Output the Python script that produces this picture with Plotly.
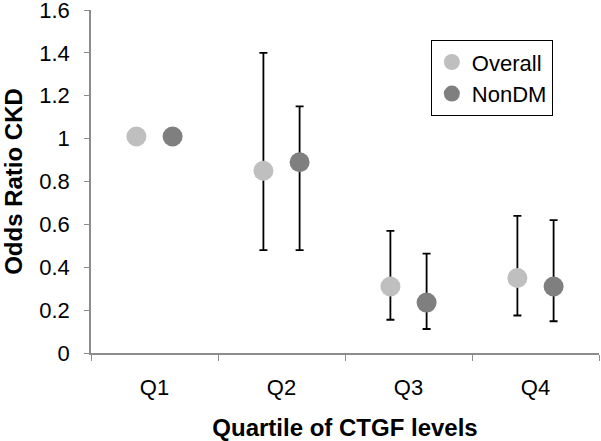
import plotly.graph_objects as go

categories = ["Q1", "Q2", "Q3", "Q4"]
overall_or = [1.01, 0.85, 0.31, 0.35]
overall_lo = [None, 0.48, 0.155, 0.175]
overall_hi = [None, 1.40, 0.57, 0.64]
nondm_or = [1.01, 0.89, 0.235, 0.31]
nondm_lo = [None, 0.48, 0.112, 0.148]
nondm_hi = [None, 1.15, 0.464, 0.62]
y_ticks = [0, 0.2, 0.4, 0.6, 0.8, 1, 1.2, 1.4, 1.6]


def err(vals, lo, hi):
    plus = [None if h is None else h - v for v, h in zip(vals, hi)]
    minus = [None if l is None else v - l for v, l in zip(vals, lo)]
    return plus, minus


fig = go.Figure()
for name, vals, lo, hi, color in [
    ("Overall", overall_or, overall_lo, overall_hi, "#BFBFBF"),
    ("NonDM", nondm_or, nondm_lo, nondm_hi, "#7F7F7F"),
]:
    plus, minus = err(vals, lo, hi)
    fig.add_trace(go.Scatter(
        x=categories, y=vals, name=name, mode="markers",
        marker=dict(color=color, size=20, line=dict(width=0)),
        error_y=dict(type="data", symmetric=False, array=plus, arrayminus=minus,
                     color="#000000", thickness=1.8, width=4),
    ))

fig.update_layout(
    width=601, height=441,
    margin=dict(l=91, r=2, t=10, b=88, autoexpand=False),
    paper_bgcolor="white", plot_bgcolor="white",
    font=dict(family="Liberation Sans, Arial, sans-serif", size=22, color="#000000"),
    scattermode="group", scattergap=0.43,
    showlegend=True,
    legend=dict(x=0.669, y=0.912, xanchor="left", yanchor="top",
                bordercolor="#000000", borderwidth=1, bgcolor="white",
                font=dict(size=22), tracegroupgap=0, itemwidth=30),
)
fig.update_xaxes(
    type="category", range=[-0.5, 3.5], showline=True, linecolor="#8C8C8C", linewidth=1.5,
    ticks="outside", ticklen=6, tickcolor="#8C8C8C", tickson="boundaries",
    showgrid=False, zeroline=False, automargin=False, tickfont=dict(size=22),
    ticklabelstandoff=14,
    title=dict(text="<b>Quartile of CTGF levels</b>", font=dict(size=24), standoff=40),
)
fig.update_yaxes(
    range=[0, 1.6], tickvals=y_ticks, showline=True, linecolor="#8C8C8C", linewidth=1.5,
    ticks="outside", ticklen=5, tickcolor="#8C8C8C", showgrid=False, zeroline=False,
    ticklabelstandoff=10, automargin=False, tickfont=dict(size=22),
    ticklabeloverflow="allow",
    title=dict(text="<b>Odds Ratio CKD</b>", font=dict(size=24), standoff=21),
)
fig.write_html("out.html", config={"displayModeBar": False},
               post_script="document.body.style.margin='0';")
